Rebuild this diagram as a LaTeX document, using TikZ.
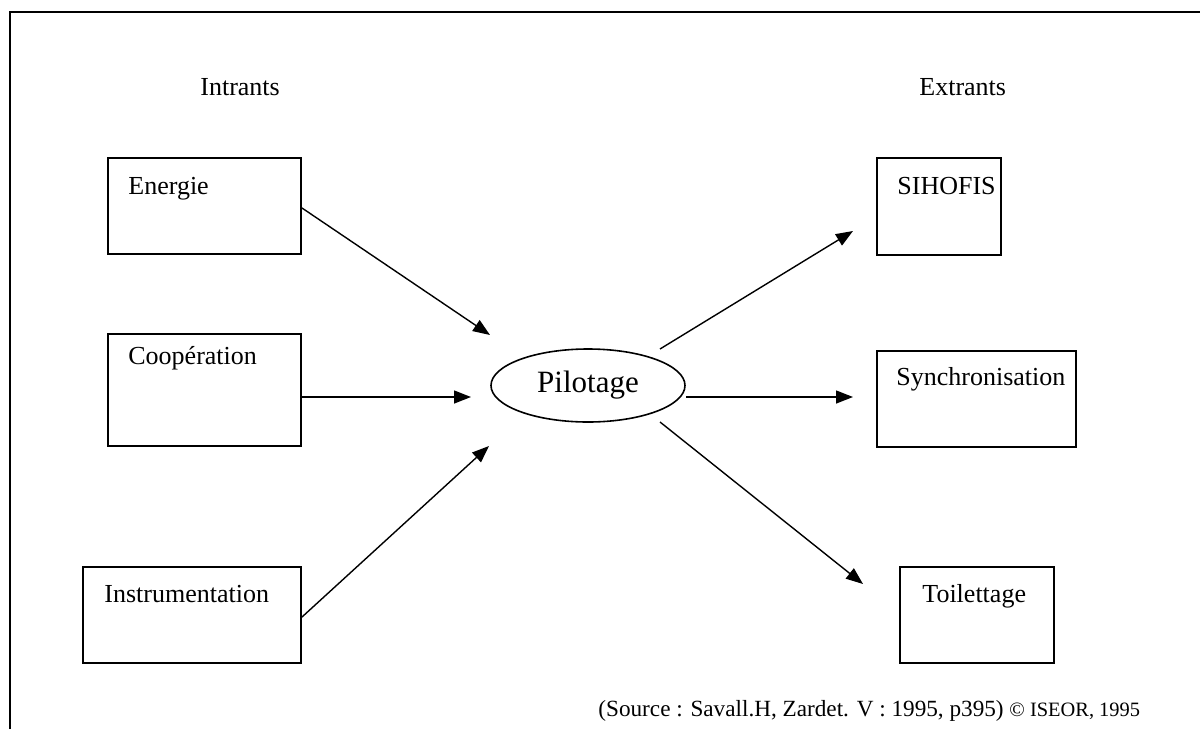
\documentclass[tikz,border=0pt]{standalone}
\usepackage{fontspec}
\setmainfont{Liberation Serif}
\usetikzlibrary{arrows.meta,shapes.geometric}
\begin{document}
\begin{tikzpicture}[x=0.5pt,y=-0.5pt,
  box/.style={draw,line width=1pt,anchor=north west,inner sep=0pt},
  lbl/.style={anchor=base west,inner sep=0pt,font=\fontsize{13}{15}\selectfont},
  arr/.style={line width=0.7pt,-{Triangle[length=8.5pt,width=6.5pt]}}]
\useasboundingbox (0,0) rectangle (1200,729);
% frame
\draw[line width=1.1pt] (10,729) -- (10,12) -- (1200,12);
% headings
\node[lbl] (intr) at (200,95) {Intrants};
\node[lbl] (extr) at (919,95) {Extrants};
% input boxes
\node[box,minimum width=96.5pt,minimum height=48pt] (en) at (107,157) {};
\node[lbl] (tEn) at (128,194) {Energie};
\node[box,minimum width=96.5pt,minimum height=56pt] (co) at (107,333) {};
\node[lbl] (tCo) at (128,364) {Coopération};
\node[box,minimum width=109pt,minimum height=48pt] (in) at (82,566) {};
\node[lbl] (tIn) at (104,602) {Instrumentation};
% output boxes
\node[box,minimum width=62pt,minimum height=48.5pt] (si) at (876,157) {};
\node[lbl] (tSi) at (897,194) {SIHOFIS};
\node[box,minimum width=99.5pt,minimum height=48pt] (sy) at (876,350) {};
\node[lbl] (tSy) at (896,385) {Synchronisation};
\node[box,minimum width=77pt,minimum height=48pt] (to) at (899,566) {};
\node[lbl] (tTo) at (922,602) {Toilettage};
% centre
\node[draw,ellipse,line width=0.8pt,minimum width=97pt,minimum height=36.5pt,inner sep=0pt,
      font=\fontsize{15.5}{18}\selectfont] (pi) at (588,385.5) {Pilotage};
% arrow ends
\coordinate (a1) at (490,335);
\coordinate (a2) at (471,397);
\coordinate (a3) at (489,446);
\coordinate (b1s) at (660,349);
\coordinate (b1) at (853,231);
\coordinate (b2s) at (686,397);
\coordinate (b2) at (853,397);
\coordinate (b3s) at (660,422);
\coordinate (b3) at (863,584);
\draw[arr] ([yshift=-1pt]en.east) -- (a1);
\draw[arr] (co.east |- a2) -- (a2);
\draw[arr] ([yshift=-1pt]in.east) -- (a3);
\draw[arr] (b1s) -- (b1);
\draw[arr] (b2s) -- (b2);
\draw[arr] (b3s) -- (b3);
% source
\node[anchor=base west,inner sep=0pt,font=\fontsize{11.6}{14}\selectfont] (src) at (598,716)
  {(Source : Savall.H, Zardet. V : 1995, p395) {\fontsize{10.2}{12}\selectfont © ISEOR, 1995}};
\end{tikzpicture}
\end{document}
